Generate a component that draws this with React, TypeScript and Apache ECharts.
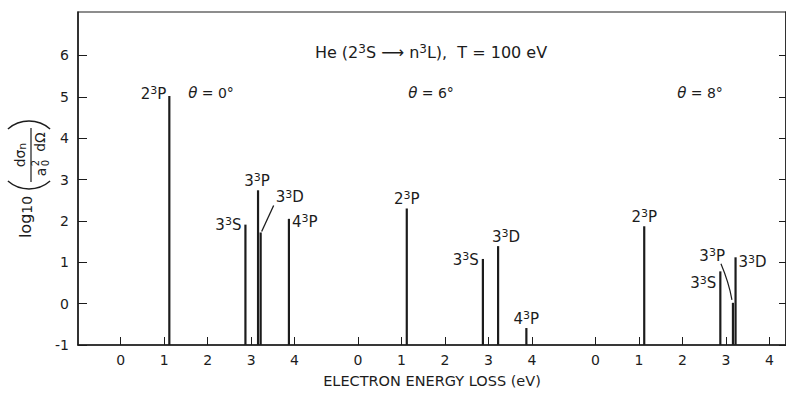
import React, { useEffect, useRef } from "react";
import * as echarts from "echarts";

// ---- data ----
const panelLabels = ["0°", "6°", "8°"];
const tickLabels = ["0", "1", "2", "3", "4"];
const yTicks = [-1, 0, 1, 2, 3, 4, 5, 6];
const levels = ["2{s|3}P", "3{s|3}S", "3{s|3}P", "3{s|3}D", "4{s|3}P"];
const energies = [1.12, 2.87, 3.16, 3.22, 3.87];
const theta0 = [5.02, 1.91, 2.74, 1.72, 2.05];
const theta6 = [2.3, 1.08, null, 1.39, -0.59];
const theta8 = [1.87, 0.78, 0.02, 1.12, null];
const panelValues = [theta0, theta6, theta8];

// ---- layout / style ----
const SHIFT = 5.46; // x distance between panels (eV units on the shared axis)
const FONT = "DejaVu Sans";
const INK = "#1c1c1c";
const SUP = { fontSize: 11, lineHeight: 11, verticalAlign: "top", fontFamily: FONT, fill: INK };

type Lay = { align: string; va: string; dx: number; dy: number; leader?: number[] };
const labelLayouts: Lay[][] = [
  [
    { align: "right", va: "middle", dx: -3, dy: -2 },
    { align: "right", va: "middle", dx: -4, dy: 0 },
    { align: "center", va: "bottom", dx: -1, dy: -1 },
    { align: "left", va: "middle", dx: 15, dy: -35, leader: [13, -27, 1, -1] },
    { align: "left", va: "middle", dx: 3, dy: 3 },
  ],
  [
    { align: "center", va: "bottom", dx: 0, dy: -1 },
    { align: "right", va: "middle", dx: -4, dy: 1 },
    { align: "center", va: "bottom", dx: 0, dy: -1 },
    { align: "center", va: "bottom", dx: 8, dy: -1 },
    { align: "center", va: "bottom", dx: 0, dy: -1 },
  ],
  [
    { align: "center", va: "bottom", dx: 0, dy: -1 },
    { align: "right", va: "middle", dx: -4, dy: 12 },
    { align: "right", va: "middle", dx: -8, dy: -47, leader: [-12, -39, -1, -3, -4, -20] },
    { align: "left", va: "middle", dx: 3, dy: 5 },
    { align: "center", va: "bottom", dx: 0, dy: -1 },
  ],
];

const xTickValues: number[] = [];
[0, 1, 2].forEach((p) => tickLabels.forEach((_, i) => xTickValues.push(+(i + p * SHIFT).toFixed(3))));

const barData: number[][] = [];
panelValues.forEach((vals, p) =>
  vals.forEach((v, li) => {
    if (v !== null) barData.push([energies[li] + p * SHIFT, v, li, p]);
  })
);

export default function App() {
  const ref = useRef<HTMLDivElement>(null);
  useEffect(() => {
    if (!ref.current) return;
    const chart = echarts.init(ref.current, null, { renderer: "svg" });
    const option: any = {
      animation: false,
      backgroundColor: "#fff",
      grid: { left: 78, right: -2, top: 12, bottom: 40, show: true, borderColor: INK, borderWidth: 1.2 },
      xAxis: {
        type: "value",
        min: -0.98,
        max: 15.3,
        splitLine: { show: false },
        axisLine: { onZero: false, lineStyle: { color: INK, width: 1.5 } },
        axisTick: { inside: true, length: 8, customValues: xTickValues, lineStyle: { color: INK, width: 1 } },
        axisLabel: {
          customValues: xTickValues,
          margin: 8,
          color: INK,
          fontFamily: FONT,
          fontSize: 14,
          formatter: (v: number) => {
            const p = v < 4.7 ? 0 : v < 10.2 ? 1 : 2;
            return tickLabels[Math.round(v - p * SHIFT)] ?? "";
          },
        },
        name: "ELECTRON ENERGY LOSS (eV)",
        nameLocation: "middle",
        nameGap: 28,
        nameTextStyle: { color: INK, fontFamily: FONT, fontSize: 14.5 },
      },
      yAxis: [
        {
          type: "value",
          min: -1,
          max: 7.05,
          interval: 1,
          splitLine: { show: false },
          axisLine: { show: true, onZero: false, lineStyle: { color: INK, width: 1.5 } },
          axisTick: { inside: true, length: 9, customValues: yTicks, lineStyle: { color: INK } },
          axisLabel: { customValues: yTicks, margin: 9, color: INK, fontFamily: FONT, fontSize: 14 },
        },
        {
          type: "value",
          position: "right",
          min: -1,
          max: 7.05,
          interval: 1,
          splitLine: { show: false },
          axisLine: { show: true, onZero: false, lineStyle: { color: INK, width: 1.5 } },
          axisTick: { inside: true, length: 7, customValues: yTicks, lineStyle: { color: INK } },
          axisLabel: { show: false },
        },
      ],
      series: [
        {
          type: "custom",
          data: barData,
          clip: false,
          renderItem: (params: any, api: any) => {
            const x = api.value(0);
            const v = api.value(1);
            const li = api.value(2);
            const p = api.value(3);
            const top = api.coord([x, v]);
            const base = api.coord([x, -1]);
            const lay = labelLayouts[p][li];
            const children: any[] = [
              {
                type: "line",
                shape: { x1: top[0], y1: top[1], x2: base[0], y2: base[1] },
                style: { stroke: INK, lineWidth: 2.2 },
              },
              {
                type: "text",
                x: top[0] + lay.dx,
                y: top[1] + lay.dy,
                style: {
                  text: levels[li],
                  align: lay.align,
                  verticalAlign: lay.va,
                  fill: INK,
                  fontFamily: FONT,
                  fontSize: 15,
                  lineHeight: 17,
                  rich: { s: SUP },
                },
              },
            ];
            if (lay.leader) {
              const L = lay.leader;
              if (L.length > 4) {
                children.push({
                  type: "bezierCurve",
                  shape: {
                    x1: top[0] + L[0],
                    y1: top[1] + L[1],
                    x2: top[0] + L[2],
                    y2: top[1] + L[3],
                    cpx1: top[0] + L[4],
                    cpy1: top[1] + L[5],
                  },
                  style: { stroke: INK, lineWidth: 1.2, fill: null },
                });
              } else {
                children.push({
                  type: "line",
                  shape: { x1: top[0] + L[0], y1: top[1] + L[1], x2: top[0] + L[2], y2: top[1] + L[3] },
                  style: { stroke: INK, lineWidth: 1.3 },
                });
              }
            }
            return { type: "group", children };
          },
        },
      ],
      graphic: [
        {
          type: "text",
          x: 431,
          y: 52,
          style: {
            text: "He (2{s|3}S ⟶ n{s|3}L),  T = 100 eV",
            align: "center",
            verticalAlign: "middle",
            fill: INK,
            fontFamily: FONT,
            fontSize: 16,
            lineHeight: 18,
            rich: { s: { ...SUP, fontSize: 12, lineHeight: 12 } },
          },
        },
        ...panelLabels.map((t, i) => ({
          type: "text",
          x: [211, 431, 700][i],
          y: 93,
          style: {
            text: "{i|θ} = " + t,
            align: "center",
            verticalAlign: "middle",
            fill: INK,
            fontFamily: FONT,
            fontSize: 14,
            rich: { i: { fontStyle: "italic", fontFamily: FONT, fontSize: 15, fill: INK } },
          },
        })),
        {
          type: "group",
          x: 31,
          y: 155,
          rotation: Math.PI / 2,
          children: [
            {
              type: "text",
              x: -62,
              y: -6,
              style: {
                text: "log{s|10}",
                align: "center",
                verticalAlign: "middle",
                fill: INK,
                fontFamily: FONT,
                fontSize: 16,
                rich: { s: { fontSize: 14, fontFamily: FONT, fill: INK, padding: [3, 0, 0, 0] } },
              },
            },
            {
              type: "arc",
              shape: { cx: -34 + 32, cy: -2, r: 32, startAngle: Math.PI - 0.72, endAngle: Math.PI + 0.72 },
              style: { stroke: INK, lineWidth: 1.4, fill: null },
            },
            {
              type: "arc",
              shape: { cx: 34 - 32, cy: -2, r: 32, startAngle: -0.72, endAngle: 0.72 },
              style: { stroke: INK, lineWidth: 1.4, fill: null },
            },
            {
              type: "text",
              x: 0,
              y: -11,
              style: {
                text: "dσ{s|n}",
                align: "center",
                verticalAlign: "middle",
                fill: INK,
                fontFamily: FONT,
                fontSize: 14,
                rich: { s: { fontSize: 11, fontFamily: FONT, fill: INK, padding: [5, 0, 0, 0] } },
              },
            },
            {
              type: "line",
              shape: { x1: -27, y1: 0, x2: 27, y2: 0 },
              style: { stroke: INK, lineWidth: 1.2 },
            },
            {
              type: "text",
              x: -17,
              y: 10,
              style: { text: "a", align: "center", verticalAlign: "middle", fill: INK, fontFamily: FONT, fontSize: 14 },
            },
            {
              type: "text",
              x: -8,
              y: 4,
              style: { text: "2", align: "center", verticalAlign: "middle", fill: INK, fontFamily: FONT, fontSize: 10 },
            },
            {
              type: "text",
              x: -8,
              y: 14,
              style: { text: "0", align: "center", verticalAlign: "middle", fill: INK, fontFamily: FONT, fontSize: 10 },
            },
            {
              type: "text",
              x: 13,
              y: 9,
              style: { text: "dΩ", align: "center", verticalAlign: "middle", fill: INK, fontFamily: FONT, fontSize: 14 },
            },
          ],
        },
      ],
    };
    chart.setOption(option);
    return () => chart.dispose();
  }, []);
  return (
    <div
      ref={ref}
      style={{ position: "fixed", left: 0, top: 0, width: 786, height: 393, background: "#fff" }}
    />
  );
}
